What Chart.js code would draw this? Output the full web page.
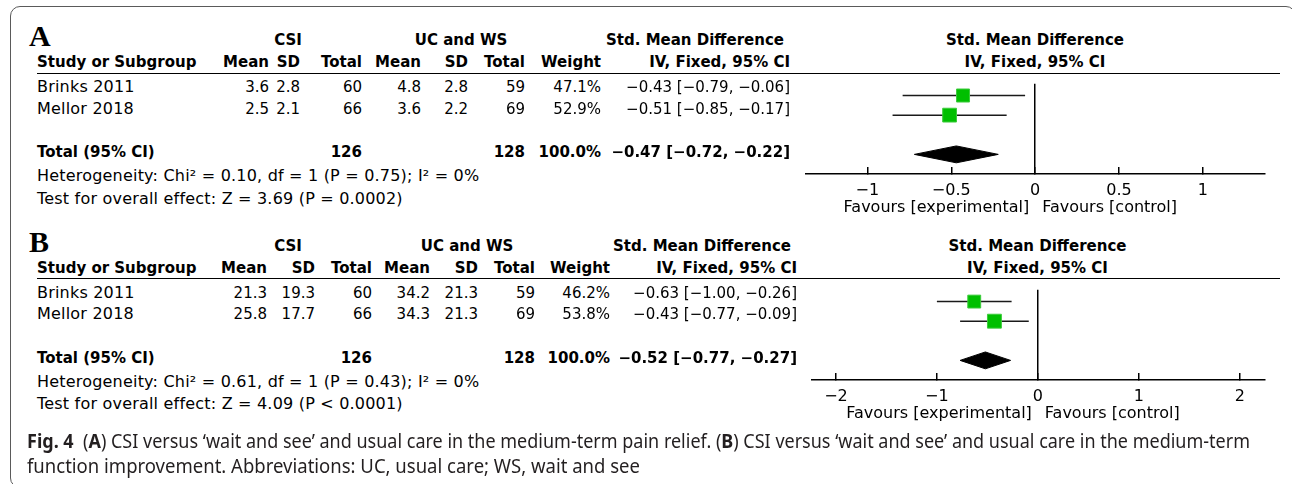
<!DOCTYPE html>
<html>
<head>
<meta charset="utf-8">
<script src="https://cdn.jsdelivr.net/npm/chart.js@4.4.0/dist/chart.umd.min.js"></script>
<style>
  body { margin: 0; width: 1292px; height: 484px; overflow: hidden; background: #fff; position: relative;
         font-family: "DejaVu Sans", sans-serif; color: #000; }
  .t { position: absolute; white-space: nowrap; font-size: 15px; line-height: 20px; height: 20px; }
  .w { font-size: 16px; letter-spacing: 0.2px; }
  .b { font-weight: bold; }
  .frame { position: absolute; left: 10px; top: 6px; width: 1286px; height: 482px; box-sizing: border-box;
           border: 1.5px solid #5a5a5a; border-radius: 10px; }
  .rule { position: absolute; height: 0; border-top: 1.5px solid #000; }
  .letter { position: absolute; font-family: "Liberation Serif", serif; font-weight: bold; font-size: 30px; line-height: 30px; }
  .cap { position: absolute; left: 27px; font-family: "Noto Sans", "DejaVu Sans", sans-serif;
         font-size: 20px; line-height: 25px; color: #231f20; white-space: nowrap; transform-origin: 0 50%; }
  canvas { position: absolute; }
</style>
</head>
<body>
<div class="frame"></div>
<canvas id="plotA" width="500" height="151"></canvas>
<canvas id="plotB" width="500" height="151"></canvas>

<script>
// ---- Panel A: medium-term pain relief ----
const studiesA   = ['Brinks 2011', 'Mellor 2018'];
const csiMeanA   = [3.6, 2.5];
const csiSdA     = [2.8, 2.1];
const csiTotalA  = [60, 66];
const ctlMeanA   = [4.8, 3.6];
const ctlSdA     = [2.8, 2.2];
const ctlTotalA  = [59, 69];
const weightA    = [47.1, 52.9];
const smdA       = [-0.43, -0.51];
const lowerA     = [-0.79, -0.85];
const upperA     = [-0.06, -0.17];
const pooledA    = [-0.47, -0.72, -0.22];   // estimate, lower, upper
const totalsA    = [126, 128];
const heteroA    = ['0.10', '1', '0.75', '0%'];  // Chi², df, P, I²
const overallA   = ['3.69', 'P = 0.0002'];
const ticksA     = [-1, -0.5, 0, 0.5, 1];
const rangeA     = [-1.366, 1.37];

// ---- Panel B: medium-term function improvement ----
const studiesB   = ['Brinks 2011', 'Mellor 2018'];
const csiMeanB   = [21.3, 25.8];
const csiSdB     = [19.3, 17.7];
const csiTotalB  = [60, 66];
const ctlMeanB   = [34.2, 34.3];
const ctlSdB     = [21.3, 21.3];
const ctlTotalB  = [59, 69];
const weightB    = [46.2, 53.8];
const smdB       = [-0.63, -0.43];
const lowerB     = [-1.00, -0.77];
const upperB     = [-0.26, -0.09];
const pooledB    = [-0.52, -0.77, -0.27];
const totalsB    = [126, 128];
const heteroB    = ['0.61', '1', '0.43', '0%'];
const overallB   = ['4.09', 'P < 0.0001'];
const ticksB     = [-2, -1, 0, 1, 2];
const rangeB     = [-2.24, 2.25];

const MINUS = '\u2212';
const signed = (v, d) => (v < 0 ? MINUS : '') + Math.abs(v).toFixed(d);
const ciText = (e, lo, hi) => `${signed(e, 2)} [${signed(lo, 2)}, ${signed(hi, 2)}]`;

function text(x, y, str, align, cls) {
  const el = document.createElement('div');
  el.className = 't' + (cls ? ' ' + cls : '');
  el.textContent = str;
  el.style.left = x + 'px';
  el.style.top = (y - 10) + 'px';
  if (align === 'right') el.style.transform = 'translateX(-100%)';
  if (align === 'center') el.style.transform = 'translateX(-50%)';
  document.body.appendChild(el);
  return el;
}

function buildPanel(p) {
  const y0 = p.top;
  const c = p.cols; // right edges: mean, sd, total, mean, sd, total, weight, CI
  const L = 37;

  const letter = document.createElement('div');
  letter.className = 'letter';
  letter.textContent = p.letter;
  letter.style.left = '29px';
  letter.style.top = (y0 + 21) + 'px';
  document.body.appendChild(letter);

  // group headings
  text(p.csiCenter, y0 + 40, 'CSI', 'center', 'b');
  text(p.ctlCenter, y0 + 40, 'UC and WS', 'center', 'b');
  text(p.smdCenter, y0 + 40, 'Std. Mean Difference', 'center', 'b');
  text(p.zeroX, y0 + 40, 'Std. Mean Difference', 'center', 'b');

  // column headings
  text(L, y0 + 62, 'Study or Subgroup', 'left', 'b');
  ['Mean', 'SD', 'Total', 'Mean', 'SD', 'Total', 'Weight', 'IV, Fixed, 95% CI']
    .forEach((h, i) => text(c[i], y0 + 62, h, 'right', 'b'));
  text(p.zeroX, y0 + 62, 'IV, Fixed, 95% CI', 'center', 'b');

  const rule = document.createElement('div');
  rule.className = 'rule';
  rule.style.left = L + 'px';
  rule.style.width = (1280 - L) + 'px';
  rule.style.top = (y0 + 72.5) + 'px';
  document.body.appendChild(rule);

  // study rows
  p.studies.forEach((s, i) => {
    const y = y0 + 87 + i * 21.5;
    text(L, y, s, 'left', 'w');
    const vals = [p.csiMean[i].toFixed(1), p.csiSd[i].toFixed(1), String(p.csiTotal[i]),
                  p.ctlMean[i].toFixed(1), p.ctlSd[i].toFixed(1), String(p.ctlTotal[i]),
                  p.weight[i].toFixed(1) + '%', ciText(p.smd[i], p.lower[i], p.upper[i])];
    vals.forEach((v, j) => text(c[j], y, v, 'right'));
  });

  // pooled row
  const yt = y0 + 152;
  text(L, yt, 'Total (95% CI)', 'left', 'b');
  text(c[2], yt, String(p.totals[0]), 'right', 'b');
  text(c[5], yt, String(p.totals[1]), 'right', 'b');
  const wsum = p.weight.reduce((a, b) => a + b, 0);
  text(c[6], yt, wsum.toFixed(1) + '%', 'right', 'b');
  text(c[7], yt, ciText(p.pooled[0], p.pooled[1], p.pooled[2]), 'right', 'b');

  const h = p.hetero;
  text(L, y0 + 176, `Heterogeneity: Chi\u00B2 = ${h[0]}, df = ${h[1]} (P = ${h[2]}); I\u00B2 = ${h[3]}`, 'left', 'w');
  text(L, y0 + 198.5, `Test for overall effect: Z = ${p.overall[0]} (${p.overall[1]})`, 'left', 'w');

  // forest plot
  const canvas = document.getElementById(p.canvas);
  canvas.style.left = '790px';
  canvas.style.top = (y0 + 73) + 'px';

  const rowOf = i => i + 1;
  const totalRow = p.studies.length + 2;
  const halfH = 0.43;

  const datasets = [];
  p.studies.forEach((s, i) => {
    datasets.push({
      label: s + ' CI',
      data: [{ x: p.lower[i], y: rowOf(i) }, { x: p.upper[i], y: rowOf(i) }],
      showLine: true, borderColor: '#1a1a1a', borderWidth: 1.5, pointRadius: 0, order: 2
    });
  });
  datasets.push({
    label: 'Study estimate',
    data: p.smd.map((v, i) => ({ x: v, y: rowOf(i) })),
    pointStyle: 'rect',
    pointRadius: p.weight.map(w => 13.4 * Math.sqrt(w / 100)),
    backgroundColor: '#00bf00', borderColor: '#3ccc3c', borderWidth: 1, order: 0
  });
  const [est, lo, hi] = p.pooled;
  datasets.push({
    label: 'Pooled',
    data: [{ x: lo, y: totalRow }, { x: est, y: totalRow - halfH }, { x: hi, y: totalRow },
           { x: est, y: totalRow + halfH }, { x: lo, y: totalRow }],
    showLine: true, fill: 'shape', tension: 0,
    backgroundColor: '#000', borderColor: '#000', borderWidth: 1, pointRadius: 0, order: 1
  });

  const favours = {
    id: 'favours',
    afterDraw(chart) {
      const ctx = chart.ctx;
      const xs = chart.scales.x;
      const x0 = xs.getPixelForValue(0);
      const y = chart.chartArea.bottom + 33.5;
      ctx.save();
      ctx.font = '16px "DejaVu Sans"';
      ctx.fillStyle = '#000';
      ctx.textBaseline = 'middle';
      ctx.textAlign = 'right';
      ctx.fillText('Favours [experimental]', x0 - 6, y);
      ctx.textAlign = 'left';
      ctx.fillText('Favours [control]', x0 + 7, y);
      ctx.restore();
    }
  };

  new Chart(canvas, {
    type: 'scatter',
    data: { datasets },
    options: {
      responsive: false, animation: false, devicePixelRatio: 1,
      layout: { padding: { left: p.plotLeft - 790, right: 1290 - p.plotRight, top: 0, bottom: 0 } },
      plugins: { legend: { display: false }, tooltip: { enabled: false } },
      elements: { line: { tension: 0 } },
      clip: false,
      scales: {
        x: {
          type: 'linear', min: p.range[0], max: p.range[1],
          afterBuildTicks: s => { s.ticks = p.ticks.map(v => ({ value: v })); },
          afterFit: s => { s.height = 50; s.paddingLeft = 0; s.paddingRight = 0; },
          border: { display: true, color: '#000', width: 1.5 },
          grid: {
            drawOnChartArea: true, drawTicks: true, tickLength: -7,
            color: ctx => (ctx.tick && ctx.tick.value === 0) ? '#000' : 'rgba(0,0,0,0)',
            lineWidth: 1.5, tickColor: '#000', tickWidth: 1.5
          },
          ticks: {
            padding: 14, color: '#000', maxRotation: 0, autoSkip: false,
            font: { family: 'DejaVu Sans', size: 16 },
            callback: v => (v < 0 ? MINUS : '') + String(Math.abs(v))
          }
        },
        y: { type: 'linear', display: false, reverse: true, min: 0.4, max: 5.0 }
      }
    },
    plugins: [favours]
  });
}

buildPanel({
  letter: 'A', top: 0, canvas: 'plotA',
  cols: [269, 300, 362, 421, 468, 525, 601, 790],
  csiCenter: 288, ctlCenter: 461, smdCenter: 695, zeroX: 1035, plotLeft: 806, plotRight: 1265,
  studies: studiesA, csiMean: csiMeanA, csiSd: csiSdA, csiTotal: csiTotalA,
  ctlMean: ctlMeanA, ctlSd: ctlSdA, ctlTotal: ctlTotalA, weight: weightA,
  smd: smdA, lower: lowerA, upper: upperA, pooled: pooledA, totals: totalsA,
  hetero: heteroA, overall: overallA, ticks: ticksA, range: rangeA
});

buildPanel({
  letter: 'B', top: 205.5, canvas: 'plotB',
  cols: [267, 315, 372, 430, 478, 535, 610, 797],
  csiCenter: 288, ctlCenter: 467, smdCenter: 702, zeroX: 1037.5, plotLeft: 811.7, plotRight: 1265,
  studies: studiesB, csiMean: csiMeanB, csiSd: csiSdB, csiTotal: csiTotalB,
  ctlMean: ctlMeanB, ctlSd: ctlSdB, ctlTotal: ctlTotalB, weight: weightB,
  smd: smdB, lower: lowerB, upper: upperB, pooled: pooledB, totals: totalsB,
  hetero: heteroB, overall: overallB, ticks: ticksB, range: rangeB
});
</script>

<div class="cap" id="cap1" style="top:428px"><b>Fig. 4</b>&nbsp; (<b>A</b>) CSI versus ‘wait and see’ and usual care in the medium-term pain relief. (<b>B</b>) CSI versus ‘wait and see’ and usual care in the medium-term</div>
<div class="cap" id="cap2" style="top:453px">function improvement. Abbreviations: UC, usual care; WS, wait and see</div>
<script>
// condense each caption line to its column width
[['cap1', 1223], ['cap2', 613]].forEach(([id, w]) => {
  const el = document.getElementById(id);
  const natural = el.getBoundingClientRect().width;
  el.style.transform = `scaleX(${w / natural})`;
});
</script>
</body>
</html>
